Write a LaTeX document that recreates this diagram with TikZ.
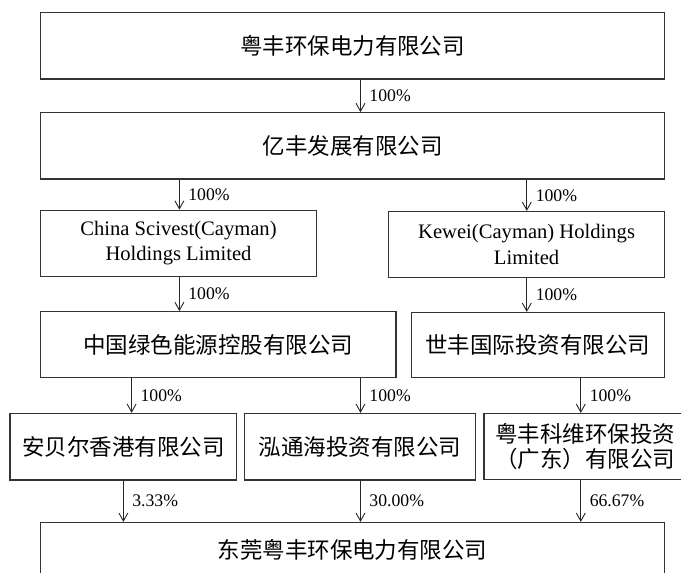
\documentclass[tikz,border=0pt]{standalone}
\usepackage{fontspec}
\setmainfont{Liberation Serif}
\newfontfamily\cjk{Noto Sans CJK SC}
\usetikzlibrary{arrows.meta}
\tikzset{
  company/.style={draw=black!80, line width=1.2pt, align=center, inner sep=0pt},
  cn/.style={company, font=\cjk\fontsize{22.5}{25}\selectfont},
  en/.style={company, font=\fontsize{20.6}{25.5}\selectfont},
  share/.style={font=\fontsize{17.7}{20}\selectfont, anchor=west, inner sep=0pt, xshift=8.5pt}
}
\begin{document}
\begin{tikzpicture}[x=1pt,y=-1pt, >={Straight Barb[length=8pt,width=9pt]}, line width=0.9pt, draw=black!85]
    \useasboundingbox (0,0) rectangle (681,573);
    \clip (0,0) rectangle (681,573);
    % Spalten der Pfeile
    \coordinate (c0) at (360.5,0);
    \coordinate (c1) at (179.4,0);
    \coordinate (c2) at (526.8,0);
    \coordinate (c3) at (131.6,0);
    \coordinate (c4) at (580.8,0);
    \coordinate (c5) at (123.4,0);
    % Gesellschaften
    \node[cn, minimum width=624pt, minimum height=66.3pt] (top) at (352.5,45.9) {粤丰环保电力有限公司};
    \node[cn, minimum width=624pt, minimum height=66.3pt] (yf) at (352.5,145.9) {亿丰发展有限公司};
    \node[en, minimum width=276pt, minimum height=66pt] (china) at (178.5,243.3) {China Scivest(Cayman)\\Holdings Limited};
    \node[en, minimum width=276pt, minimum height=66pt] (kewei) at (526.6,244.5) {Kewei(Cayman) Holdings\\Limited};
    \node[cn, minimum width=355.5pt, minimum height=66pt] (zglv) at (218.2,344.7) {中国绿色能源控股有限公司};
    \node[cn, minimum width=253pt, minimum height=65pt] (sf) at (537.9,345) {世丰国际投资有限公司};
    \node[cn, minimum width=226.7pt, minimum height=66.5pt] (abe) at (123.3,446.7) {安贝尔香港有限公司};
    \node[cn, minimum width=231pt, minimum height=66.5pt] (hth) at (360,446.7) {泓通海投资有限公司};
    \node[cn, minimum width=202pt, minimum height=66pt] (ykw) at (585,446.5) {粤丰科维环保投资\\（广东）有限公司};
    \node[cn, minimum width=624pt, minimum height=55pt] (dg) at (352.5,550) {东莞粤丰环保电力有限公司};
    % Beteiligungen
    \draw[->] (top.south -| c0) -- (yf.north -| c0) node[share, midway]{100\%};
    \draw[->] (yf.south -| c1) -- (china.north -| c1) node[share, midway]{100\%};
    \draw[->] (yf.south -| c2) -- (kewei.north -| c2) node[share, midway]{100\%};
    \draw[->] (china.south -| c1) -- (zglv.north -| c1) node[share, midway]{100\%};
    \draw[->] (kewei.south -| c2) -- (sf.north -| c2) node[share, midway]{100\%};
    \draw[->] (zglv.south -| c3) -- (abe.north -| c3) node[share, midway]{100\%};
    \draw[->] (zglv.south -| c0) -- (hth.north -| c0) node[share, midway]{100\%};
    \draw[->] (sf.south -| c4) -- (ykw.north -| c4) node[share, midway]{100\%};
    \draw[->] (abe.south -| c5) -- (dg.north -| c5) node[share, midway]{3.33\%};
    \draw[->] (hth.south -| c0) -- (dg.north -| c0) node[share, midway]{30.00\%};
    \draw[->] (ykw.south -| c4) -- (dg.north -| c4) node[share, midway]{66.67\%};
\end{tikzpicture}
\end{document}
